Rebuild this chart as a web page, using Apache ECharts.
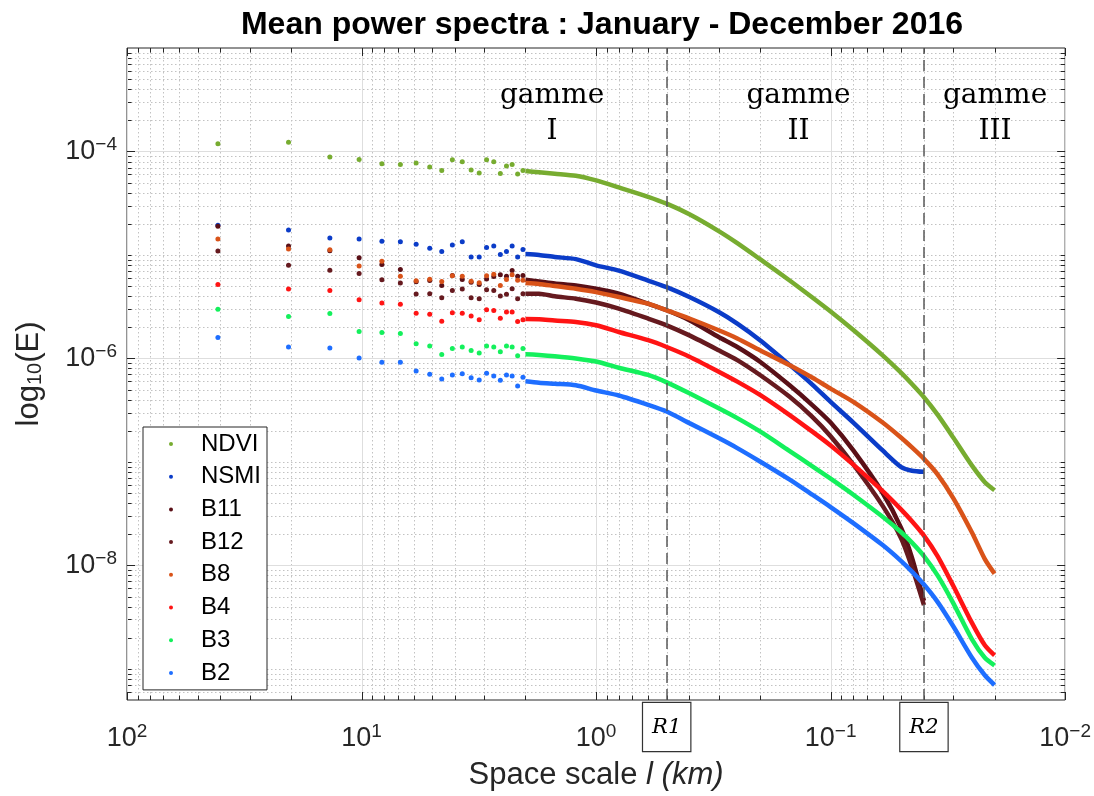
<!DOCTYPE html>
<html><head><meta charset="utf-8">
<script src="https://cdn.jsdelivr.net/npm/echarts@6/dist/echarts.min.js"></script>
<style>html,body{margin:0;padding:0;background:#fff}#chart{width:1094px;height:796px}</style>
</head><body><div id="chart"></div>
<script>
// ---------------- data ----------------
const seriesNames  = ['NDVI', 'NSMI', 'B11', 'B12', 'B8', 'B4', 'B3', 'B2'];
const seriesColors = ['#77AC30', '#0B3CC8', '#5A1017', '#661A1F', '#D95319', '#FF1414', '#14F05C', '#1E6EFF'];

// sparse part: scales 40.96/k km, k = 1..20
const sparseScales = [40.96, 20.48, 13.65, 10.24, 8.19, 6.83, 5.85, 5.12, 4.55, 4.10,
                      3.72, 3.41, 3.15, 2.93, 2.73, 2.56, 2.41, 2.28, 2.16, 2.05];
const sparseNDVI = [1.19e-4, 1.23e-4, 8.83e-5, 8.38e-5, 7.60e-5, 7.50e-5, 7.73e-5, 7.06e-5, 6.56e-5, 8.32e-5,
                    7.96e-5, 6.62e-5, 6.19e-5, 8.32e-5, 7.96e-5, 6.14e-5, 7.23e-5, 7.50e-5, 6.05e-5, 6.56e-5];
const sparseNSMI = [1.94e-5, 1.74e-5, 1.46e-5, 1.43e-5, 1.36e-5, 1.34e-5, 1.27e-5, 1.16e-5, 1.08e-5, 1.25e-5,
                    1.34e-5, 9.57e-6, 9.57e-6, 1.18e-5, 1.22e-5, 1.01e-5, 1.08e-5, 1.22e-5, 9.57e-6, 1.13e-5];
const sparseB11  = [1.89e-5, 1.22e-5, 1.10e-5, 9.42e-6, 8.07e-6, 7.23e-6, 5.50e-6, 5.66e-6, 5.07e-6, 6.32e-6,
                    5.79e-6, 5.46e-6, 5.19e-6, 5.87e-6, 6.19e-6, 6.43e-6, 6.24e-6, 7.06e-6, 6.24e-6, 6.32e-6];
const sparseB12  = [1.09e-5, 7.96e-6, 7.13e-6, 6.61e-6, 5.75e-6, 5.36e-6, 4.19e-6, 4.22e-6, 3.86e-6, 4.54e-6,
                    4.68e-6, 3.86e-6, 3.78e-6, 4.60e-6, 4.54e-6, 4.01e-6, 4.16e-6, 4.71e-6, 3.78e-6, 4.22e-6];
const sparseB8   = [1.43e-5, 1.14e-5, 1.12e-5, 7.83e-6, 8.69e-6, 6.24e-6, 5.62e-6, 5.83e-6, 5.55e-6, 6.28e-6,
                    6.24e-6, 5.58e-6, 5.38e-6, 6.28e-6, 6.52e-6, 5.07e-6, 5.79e-6, 6.43e-6, 5.71e-6, 5.71e-6];
const sparseB4   = [5.19e-6, 4.68e-6, 4.54e-6, 3.69e-6, 3.43e-6, 3.33e-6, 2.73e-6, 2.67e-6, 2.29e-6, 2.77e-6,
                    2.73e-6, 2.57e-6, 2.37e-6, 2.96e-6, 2.90e-6, 2.44e-6, 2.81e-6, 2.81e-6, 2.27e-6, 2.37e-6];
const sparseB3   = [2.98e-6, 2.54e-6, 2.71e-6, 1.82e-6, 1.78e-6, 1.74e-6, 1.39e-6, 1.32e-6, 1.09e-6, 1.25e-6,
                    1.29e-6, 1.19e-6, 1.13e-6, 1.32e-6, 1.29e-6, 1.16e-6, 1.32e-6, 1.29e-6, 1.06e-6, 1.25e-6];
const sparseB2   = [1.59e-6, 1.29e-6, 1.26e-6, 1.01e-6, 9.16e-7, 9.16e-7, 7.55e-7, 7.02e-7, 6.32e-7, 6.92e-7,
                    7.13e-7, 6.52e-7, 6.19e-7, 7.18e-7, 6.76e-7, 6.14e-7, 6.92e-7, 6.76e-7, 5.42e-7, 6.56e-7];

// dense part (continuous band) sampled at these scales, km
const denseScales = [2.0, 1.75, 1.5, 1.22, 1.0, 0.8, 0.6, 0.5, 0.4, 0.3, 0.25, 0.2, 0.15, 0.12, 0.1,
                     0.08, 0.06, 0.05, 0.045, 0.04, 0.035, 0.03, 0.025, 0.022, 0.02];
const denseNDVI = [6.46e-5, 6.31e-5, 6.10e-5, 5.82e-5, 5.25e-5, 4.49e-5, 3.65e-5, 3.13e-5, 2.47e-5, 1.70e-5,
                   1.30e-5, 9.10e-6, 5.70e-6, 3.90e-6, 2.84e-6, 1.88e-6, 1.07e-6, 7.24e-7, 5.65e-7, 4.21e-7,
                   2.86e-7, 1.72e-7, 9.25e-8, 6.37e-8, 5.32e-8];
const denseNSMI = [1.02e-5, 1.00e-5, 9.55e-6, 9.12e-6, 7.94e-6, 7.06e-6, 5.66e-6, 4.89e-6, 3.92e-6, 2.81e-6,
                   2.17e-6, 1.50e-6, 8.71e-7, 5.62e-7, 3.80e-7, 2.40e-7, 1.29e-7, 8.91e-8, 8.22e-8, 8.02e-8,
                   null, null, null, null, null];
const denseB11  = [5.75e-6, 5.55e-6, 5.31e-6, 5.07e-6, 4.71e-6, 4.22e-6, 3.38e-6, 2.92e-6, 2.34e-6, 1.61e-6,
                   1.29e-6, 9.29e-7, 5.53e-7, 3.56e-7, 2.40e-7, 1.29e-7, 5.01e-8, 2.29e-8, 1.19e-8, 4.54e-9,
                   null, null, null, null, null];
const denseB12  = [4.22e-6, 4.22e-6, 3.98e-6, 3.78e-6, 3.47e-6, 3.03e-6, 2.43e-6, 2.09e-6, 1.67e-6, 1.20e-6,
                   9.64e-7, 6.92e-7, 4.28e-7, 2.74e-7, 1.77e-7, 9.44e-8, 3.76e-8, 1.82e-8, 9.62e-9, 4.13e-9,
                   null, null, null, null, null];
const denseB8   = [5.37e-6, 5.25e-6, 5.01e-6, 4.71e-6, 4.37e-6, 3.92e-6, 3.38e-6, 2.92e-6, 2.43e-6, 1.87e-6,
                   1.56e-6, 1.20e-6, 8.63e-7, 6.53e-7, 5.11e-7, 3.80e-7, 2.40e-7, 1.71e-7, 1.38e-7, 1.07e-7,
                   7.59e-8, 4.47e-8, 2.09e-8, 1.15e-8, 8.32e-9];
const denseB4   = [2.40e-6, 2.39e-6, 2.32e-6, 2.25e-6, 2.09e-6, 1.80e-6, 1.50e-6, 1.29e-6, 1.04e-6, 7.45e-7,
                   5.97e-7, 4.44e-7, 2.85e-7, 1.97e-7, 1.44e-7, 9.40e-8, 5.21e-8, 3.46e-8, 2.67e-8, 1.94e-8,
                   1.23e-8, 6.35e-9, 2.80e-9, 1.69e-9, 1.35e-9];
const denseB3   = [1.10e-6, 1.08e-6, 1.05e-6, 1.00e-6, 9.33e-7, 8.13e-7, 6.92e-7, 5.87e-7, 4.60e-7, 3.30e-7,
                   2.65e-7, 1.97e-7, 1.28e-7, 9.12e-8, 6.89e-8, 4.82e-8, 2.95e-8, 2.09e-8, 1.66e-8, 1.23e-8,
                   8.00e-9, 4.32e-9, 1.94e-9, 1.28e-9, 1.08e-9];
const denseB2   = [6.03e-7, 5.83e-7, 5.69e-7, 5.50e-7, 4.90e-7, 4.38e-7, 3.56e-7, 3.07e-7, 2.37e-7, 1.70e-7,
                   1.36e-7, 1.01e-7, 6.78e-8, 4.84e-8, 3.66e-8, 2.56e-8, 1.57e-8, 1.10e-8, 8.71e-9, 6.53e-9,
                   4.44e-9, 2.58e-9, 1.29e-9, 8.67e-10, 6.98e-10];

const sparseValues = [sparseNDVI, sparseNSMI, sparseB11, sparseB12, sparseB8, sparseB4, sparseB3, sparseB2];
const denseValues  = [denseNDVI, denseNSMI, denseB11, denseB12, denseB8, denseB4, denseB3, denseB2];

// annotations
const rangeBounds = [0.5, 0.04];
const rangeLabels = ['R1', 'R2'];
const gammeLabels = ['gamme\nI', 'gamme\nII', 'gamme\nIII'];
const gammeScales = [1.54, 0.137, 0.0199];
const gammeLevel  = 2.3e-4;

// axes
const xMin = 0.01, xMax = 100, yMin = 5e-10, yMax = 1e-3;
const xTickExps = [2, 1, 0, -1, -2];
const yTickExps = [-4, -6, -8];
const xMajorGrid = [100, 10, 1, 0.1, 0.01];
const yMajorGrid = [1e-4, 1e-6, 1e-8];
const minorMantissas = [2, 3, 4, 5, 6, 7, 8, 9];

const xMinorGrid = [];
[-2, -1, 0, 1].forEach(e => minorMantissas.forEach(m => xMinorGrid.push(m * Math.pow(10, e))));
const yMinorGrid = [];
[-10, -9, -8, -7, -6, -5, -4].forEach(e => [1].concat(minorMantissas).forEach(m => {
  const v = m * Math.pow(10, e);
  if (v > yMin && v < yMax && !(m === 1 && yTickExps.indexOf(e) >= 0)) yMinorGrid.push(v);
}));

// ---------------- chart ----------------
const SANS = 'Liberation Sans, Arial, Helvetica, sans-serif';
const SERIF = 'DejaVu Serif, serif';
const AX = '#262626';
const chart = echarts.init(document.getElementById('chart'));

function expLabel(e) { return '{b|10}{s|' + (e < 0 ? '\u2212' + (-e) : e) + '}'; }

function gridRenderer(dir, major) {
  return function (params, api) {
    const cs = params.coordSys;
    const tl = major ? 8 : 4.5;
    const gridStyle = major
      ? { stroke: '#dedede', lineWidth: 1 }
      : { stroke: '#c2c2c2', lineWidth: 1, lineDash: [1.5, 2.5] };
    const tickStyle = { stroke: AX, lineWidth: 1 };
    if (dir === 'x') {
      const x = Math.round(api.coord([api.value(0), 1e-6])[0]) + 0.5;
      return { type: 'group', children: [
        { type: 'line', shape: { x1: x, y1: cs.y, x2: x, y2: cs.y + cs.height }, style: gridStyle },
        { type: 'line', shape: { x1: x, y1: cs.y + cs.height, x2: x, y2: cs.y + cs.height - tl }, style: tickStyle },
        { type: 'line', shape: { x1: x, y1: cs.y, x2: x, y2: cs.y + tl }, style: tickStyle }
      ] };
    }
    const y = Math.round(api.coord([1, api.value(1)])[1]) + 0.5;
    return { type: 'group', children: [
      { type: 'line', shape: { x1: cs.x, y1: y, x2: cs.x + cs.width, y2: y }, style: gridStyle },
      { type: 'line', shape: { x1: cs.x, y1: y, x2: cs.x + tl, y2: y }, style: tickStyle },
      { type: 'line', shape: { x1: cs.x + cs.width, y1: y, x2: cs.x + cs.width - tl, y2: y }, style: tickStyle }
    ] };
  };
}

const series = [
  { type: 'custom', name: 'xMinor', silent: true, z: 1, renderItem: gridRenderer('x', false), data: xMinorGrid.map(v => [v, 1e-6]) },
  { type: 'custom', name: 'yMinor', silent: true, z: 1, renderItem: gridRenderer('y', false), data: yMinorGrid.map(v => [1, v]) },
  { type: 'custom', name: 'xMajor', silent: true, z: 1, renderItem: gridRenderer('x', true), data: xMajorGrid.map(v => [v, 1e-6]) },
  { type: 'custom', name: 'yMajor', silent: true, z: 1, renderItem: gridRenderer('y', true), data: yMajorGrid.map(v => [1, v]) }
];

seriesNames.forEach((name, i) => {
  series.push({
    type: 'scatter', name: name, z: 3, symbol: 'circle', symbolSize: 5,
    itemStyle: { color: seriesColors[i], opacity: 1 },
    data: sparseScales.map((s, k) => [s, sparseValues[i][k]])
  });
  const line = {
    type: 'line', name: name, z: 3, showSymbol: false, smooth: 0.25,
    lineStyle: { color: seriesColors[i], width: 4.5 },
    itemStyle: { color: seriesColors[i] },
    data: denseScales.map((s, k) => [s, denseValues[i][k]])
  };
  if (i === 0) {
    line.markLine = {
      silent: true, symbol: ['none', 'none'], animation: false,
      lineStyle: { color: '#5a5a5a', type: [11, 6], width: 1.5 },
      label: { show: true, position: 'start', distance: 3, color: '#000', fontFamily: SERIF,
               fontStyle: 'italic', fontSize: 21, borderColor: '#333', borderWidth: 1.2,
               padding: [14, 9, 13, 9], backgroundColor: '#fff' },
      data: rangeBounds.map((v, k) => ({ xAxis: v, label: { formatter: rangeLabels[k] } }))
    };
    line.markPoint = {
      silent: true, symbol: 'circle', symbolSize: 1, animation: false,
      itemStyle: { color: 'rgba(0,0,0,0)' },
      label: { show: true, position: 'inside', color: '#000', fontFamily: SERIF, fontSize: 28, lineHeight: 36 },
      data: gammeLabels.map((t, k) => ({ coord: [gammeScales[k], gammeLevel], label: { formatter: t } }))
    };
  }
  series.push(line);
});

const supRich = {
  b: { fontSize: 27, fontFamily: SANS, color: AX },
  s: { fontSize: 19, fontFamily: SANS, color: AX, padding: [0, 0, 14, 0] }
};

chart.setOption({
  animation: false,
  backgroundColor: '#fff',
  title: {
    text: 'Mean power spectra : January - December 2016',
    left: 597, top: 4, textAlign: 'center',
    textStyle: { fontSize: 32, fontWeight: 'bold', color: '#000', fontFamily: SANS }
  },
  grid: { left: 127, right: 27, top: 48, bottom: 94, show: true, borderColor: AX, borderWidth: 1, backgroundColor: '#fff' },
  legend: {
    data: seriesNames, orient: 'vertical', left: 143, top: 427,
    backgroundColor: '#fff', borderColor: AX, borderWidth: 1, borderRadius: 0,
    padding: [5, 6, 5, 26], itemWidth: 50, itemHeight: 4, itemGap: 8.7,
    textStyle: { fontSize: 24, lineHeight: 24, color: '#000', fontFamily: SANS }
  },
  xAxis: {
    type: 'log', logBase: 10, min: xMin, max: xMax, inverse: true,
    axisLine: { show: false }, axisTick: { show: false }, splitLine: { show: false },
    axisLabel: {
      margin: 22,
      formatter: v => { const e = Math.round(Math.log10(v)); return xTickExps.indexOf(e) >= 0 ? expLabel(e) : ''; },
      rich: supRich
    },
    name: 'Space scale {i|l (km)}', nameLocation: 'middle', nameGap: 60,
    nameTextStyle: { fontSize: 31, color: AX, fontFamily: SANS,
      rich: { i: { fontSize: 31, fontStyle: 'italic', color: AX, fontFamily: SANS } } }
  },
  yAxis: {
    type: 'log', logBase: 10, min: yMin, max: yMax,
    axisLine: { show: false }, axisTick: { show: false }, splitLine: { show: false },
    axisLabel: {
      margin: 10,
      formatter: v => { const e = Math.round(Math.log10(v)); return (yTickExps.indexOf(e) >= 0 && Math.abs(Math.log10(v) - e) < 1e-6) ? expLabel(e) : ''; },
      rich: supRich
    },
    name: 'log{sub|10}(E)', nameLocation: 'middle', nameGap: 82,
    nameTextStyle: { fontSize: 31, color: AX, fontFamily: SANS,
      rich: { sub: { fontSize: 20, color: AX, fontFamily: SANS, padding: [12, 0, 0, 0] } } }
  },
  series: series
});
</script></body></html>
